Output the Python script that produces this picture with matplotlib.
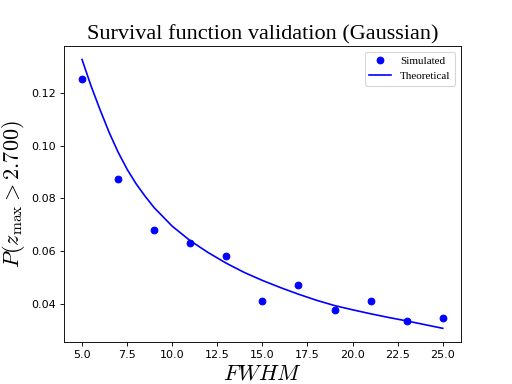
import numpy as np
import matplotlib
matplotlib.use('Agg')
import matplotlib.pyplot as plt

plt.rcParams['mathtext.fontset'] = 'cm'

# simulated survival probabilities
fwhm_sim = [5, 7, 9, 11, 13, 15, 17, 19, 21, 23, 25]
p_sim = [0.1253, 0.0875, 0.0679, 0.0630, 0.0581, 0.0411, 0.0471, 0.0377, 0.0411, 0.0335, 0.0347]

# theoretical curve
fwhm_th = [5, 5.5, 6, 6.5, 7, 7.5, 8, 8.5, 9, 10, 11, 12, 13, 14, 15, 16, 17, 18, 19, 20, 21, 22, 23, 24, 25]
p_th = [0.1325, 0.1225, 0.1135, 0.1050, 0.0975, 0.0910, 0.0855, 0.0808, 0.0765, 0.0695, 0.0640,
        0.0595, 0.0555, 0.0520, 0.0490, 0.0463, 0.0438, 0.0415, 0.0395, 0.0379, 0.0364, 0.0350,
        0.0337, 0.0323, 0.0309]

fig = plt.figure(figsize=(6.4, 4.8), dpi=80)
ax = fig.add_subplot(111)
ax.plot(fwhm_sim, p_sim, 'ob', label='Simulated')
ax.plot(fwhm_th, p_th, 'b-', label='Theoretical')

ax.set_title('Survival function validation (Gaussian)', fontsize=20, family='Liberation Serif')
ax.set_xlabel('$FWHM$', fontsize=20)
ax.set_ylabel(r'$P(z_\mathrm{max} > 2.700)$', fontsize=20)
ax.legend(loc=1, prop={'family': 'Liberation Serif', 'size': 10})

fig.savefig('out.png', dpi=80)
